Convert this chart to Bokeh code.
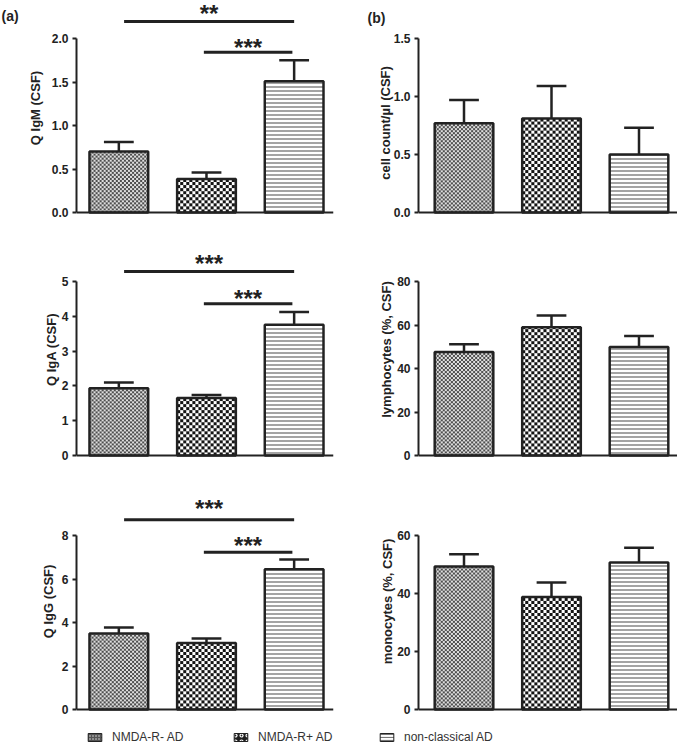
import numpy as np
from bokeh.plotting import figure
from bokeh.models import (Range1d, FixedTicker, NumeralTickFormatter, Span, Label,
                          Legend, LegendItem)
from bokeh.layouts import column, row
from bokeh.embed import file_html
from bokeh.resources import INLINE
from bokeh.core.properties import value

# ---------------- data ----------------
groups = ["NMDA-R- AD", "NMDA-R+ AD", "non-classical AD"]

igm_mean = [0.70, 0.385, 1.51]
igm_sem = [0.11, 0.075, 0.24]
iga_mean = [1.93, 1.65, 3.76]
iga_sem = [0.17, 0.09, 0.36]
igg_mean = [3.49, 3.06, 6.45]
igg_sem = [0.28, 0.20, 0.45]
cell_mean = [0.77, 0.81, 0.50]
cell_sem = [0.20, 0.28, 0.23]
lym_mean = [47.6, 59.0, 49.9]
lym_sem = [3.5, 5.4, 5.1]
mono_mean = [49.3, 38.8, 50.7]
mono_sem = [4.2, 5.0, 5.1]

igm_ticks = [0, 0.5, 1.0, 1.5, 2.0]
iga_ticks = [0, 1, 2, 3, 4, 5]
igg_ticks = [0, 2, 4, 6, 8]
cell_ticks = [0, 0.5, 1.0, 1.5]
lym_ticks = [0, 20, 40, 60, 80]
mono_ticks = [0, 20, 40, 60]

# significance brackets (group-axis extents, bracket height, star height, label)
sig_x0 = [0.06, 0.97]
sig_x1 = [2.00, 1.98]
igm_sig_y = [2.195, 1.843]
igm_star_y = [2.337, 1.943]
igm_stars = ["**", "***"]
iga_sig_y = [5.29, 4.36]
iga_star_y = [5.62, 4.63]
iga_stars = ["***", "***"]
igg_sig_y = [8.72, 7.23]
igg_star_y = [9.42, 7.74]
igg_stars = ["***", "***"]

# ---------------- style / layout ----------------
FONT = "Liberation Sans"
INK = "#222222"
AXIS_PX = 174.0
BAR_W = 0.67
XR_L = (-0.483, 2.449)
XR_R = (-0.52, 2.44)
TAG_A_W = 20
COL_L = dict(w=345, bl=76, br=12, xr=XR_L)
COL_L1 = dict(w=345 - TAG_A_W, bl=76 - TAG_A_W, br=12, xr=XR_L)
COL_R = dict(w=332, bl=73, br=0, xr=XR_R)
ROW1 = dict(h=238, bt=0, bb=23, z=3)
ROW1R = dict(h=238, bt=30, bb=23, z=3)
ROW2 = dict(h=249, bt=2, bb=29, z=3)
ROW3 = dict(h=231, bt=3, bb=6, z=3)
LEG_H = 27

# textures: (cell px, dark colour, light colour) for checkerboards; None = hatch
CHECKS = [(2, (78, 78, 78), (222, 222, 222)), (3, (20, 20, 20), (255, 255, 255)), None]
LINES = dict(hatch_pattern="horizontal_line", hatch_scale=4, hatch_weight=1.6,
             hatch_color="#8c8c8c")


def checker_img(h, w, cell, dark, light):
    yy, xx = np.mgrid[0:h, 0:w]
    mask = ((yy // cell + xx // cell) % 2) == 0
    img = np.empty((h, w), dtype=np.uint32)
    v = img.view(dtype=np.uint8).reshape((h, w, 4))
    for k in range(3):
        v[:, :, k] = np.where(mask, dark[k], light[k])
    v[:, :, 3] = 255
    return img


def blank_fig(w, h, **kw):
    f = figure(width=w, height=h, x_range=Range1d(0, 1), y_range=Range1d(0, 1),
               output_backend="svg", toolbar_location=None, x_axis_location=None,
               y_axis_location=None, outline_line_color=None,
               background_fill_color="white", border_fill_color="white", **kw)
    f.grid.visible = False
    return f


def panel(col, rw, mean, sem, ticks, ylabel, fmt, standoff,
          sig_y=None, star_y=None, stars=None, title=None):
    ppu = AXIS_PX / ticks[-1]
    fw = col["w"] - col["bl"] - col["br"]
    fh = rw["h"] - rw["bt"] - rw["bb"]
    ppx = fw / (col["xr"][1] - col["xr"][0])
    y0 = -rw["z"] / ppu
    y1 = y0 + fh / ppu
    p = figure(width=col["w"], height=rw["h"], x_range=Range1d(*col["xr"]),
               y_range=Range1d(y0, y1), output_backend="svg", toolbar_location=None,
               x_axis_location=None, min_border_left=col["bl"], min_border_right=col["br"],
               min_border_top=rw["bt"], min_border_bottom=rw["bb"],
               background_fill_color="white", border_fill_color="white",
               outline_line_color=None)
    if title is not None:
        # panel tag placed as a left-aligned title shifted left of the frame
        p.title.text = title[0]
        p.title.align = "left"
        p.title.offset = title[1]
        p.title.standoff = title[2]
        p.title.text_font = FONT
        p.title.text_font_style = "bold"
        p.title.text_font_size = "14px"
        p.title.text_color = INK
    p.grid.visible = False
    ax = p.yaxis[0]
    ax.ticker = FixedTicker(ticks=ticks)
    ax.bounds = (0, ticks[-1])
    ax.formatter = NumeralTickFormatter(format=fmt)
    ax.axis_label = ylabel
    ax.axis_label_text_font = FONT
    ax.axis_label_text_font_style = "bold"
    ax.axis_label_text_font_size = "13px"
    ax.axis_label_text_color = INK
    ax.axis_label_standoff = standoff
    ax.major_label_text_font = FONT
    ax.major_label_text_font_style = "bold"
    ax.major_label_text_font_size = "12px"
    ax.major_label_text_color = INK
    ax.major_label_standoff = 4
    ax.axis_line_width = 2
    ax.axis_line_color = INK
    ax.major_tick_line_width = 2
    ax.major_tick_line_color = INK
    ax.major_tick_out = 4
    ax.major_tick_in = 0
    ax.minor_tick_line_color = None

    xs = np.arange(len(mean))
    mean = np.array(mean, dtype=float)
    upper = mean + np.array(sem)
    # error bars (upper only)
    p.segment(x0=xs, y0=mean, x1=xs, y1=upper, line_color=INK, line_width=2.5)
    p.segment(x0=xs - 0.17, y0=upper, x1=xs + 0.17, y1=upper, line_color=INK, line_width=2.5)
    for i in range(len(mean)):
        if CHECKS[i] is not None:
            cell, dark, light = CHECKS[i]
            img = checker_img(max(1, int(round(mean[i] * ppu))), int(round(BAR_W * ppx)),
                              cell, dark, light)
            p.image_rgba(image=[img], x=xs[i] - BAR_W / 2, y=0, dw=BAR_W, dh=mean[i])
            p.vbar(x=[xs[i]], top=[mean[i]], bottom=0, width=BAR_W, fill_color=None,
                   line_color=INK, line_width=2.5)
        else:
            p.vbar(x=[xs[i]], top=[mean[i]], bottom=0, width=BAR_W, fill_color="white",
                   line_color=INK, line_width=2.5, **LINES)
    p.add_layout(Span(location=0, dimension="width", line_color=INK, line_width=2))

    if sig_y is not None:
        p.segment(x0=sig_x0, y0=sig_y, x1=sig_x1, y1=sig_y, line_color=INK, line_width=3)
        mids = [(a + b) / 2 for a, b in zip(sig_x0, sig_x1)]
        p.text(x=mids, y=star_y, text=stars, text_align="center", text_baseline="alphabetic",
               text_font=value(FONT), text_font_style="bold", text_font_size="24px",
               text_color=INK, y_offset=4)
    return p


# "(a)" tag: a narrow blank figure whose frame matches the IgM panel's frame
tag_a = blank_fig(TAG_A_W, ROW1["h"], min_border_left=0, min_border_right=0,
                  min_border_top=ROW1["bt"], min_border_bottom=ROW1["bb"])
tag_a.add_layout(Label(x=1, y=ROW1["h"] - ROW1["bt"] - ROW1["bb"] - 15,
                       x_units="screen", y_units="screen", text="(a)",
                       text_align="left", text_baseline="middle", text_font=FONT,
                       text_font_style="bold", text_font_size="14px", text_color=INK))

f1 = panel(COL_L1, ROW1, igm_mean, igm_sem, igm_ticks, "Q IgM (CSF)", "0.0", 6,
           igm_sig_y, igm_star_y, igm_stars)
f2 = panel(COL_R, ROW1R, cell_mean, cell_sem, cell_ticks, "cell count/µl (CSF)", "0.0", -2,
           title=("(b)", -51, 9))
f3 = panel(COL_L, ROW2, iga_mean, iga_sem, iga_ticks, "Q IgA (CSF)", "0", 0,
           iga_sig_y, iga_star_y, iga_stars)
f4 = panel(COL_R, ROW2, lym_mean, lym_sem, lym_ticks, "lymphocytes (%, CSF)", "0", 0)
f5 = panel(COL_L, ROW3, igg_mean, igg_sem, igg_ticks, "Q IgG (CSF)", "0", 3,
           igg_sig_y, igg_star_y, igg_stars)
f6 = panel(COL_R, ROW3, mono_mean, mono_sem, mono_ticks, "monocytes (%, CSF)", "0", -1)

# legend strip
LEG_STYLE = [dict(fill_color="#8f8f8f", hatch_pattern="cross", hatch_color="#555555",
                  hatch_scale=3, hatch_weight=1),
             dict(fill_color="#1e1e1e", hatch_pattern="ring", hatch_color="white",
                  hatch_scale=6, hatch_weight=1.2),
             dict(fill_color="white", hatch_pattern="horizontal_line", hatch_color="#777777",
                  hatch_scale=3, hatch_weight=1.2)]
leg = blank_fig(677, LEG_H, min_border=0)
items = []
for i, g in enumerate(groups):
    # off-range sample bar: only its legend swatch is visible
    r = leg.vbar(x=[3 + i], top=[1], width=0.5, line_color=INK, line_width=1, **LEG_STYLE[i])
    items.append(LegendItem(label=g, renderers=[r]))
legend = Legend(items=items, orientation="horizontal", location=(86, 1),
                glyph_width=17, glyph_height=10, label_standoff=9, label_width=120,
                label_height=14, spacing=0, padding=0, margin=0, border_line_color=None,
                background_fill_alpha=0, label_text_font=FONT, label_text_font_size="12px",
                label_text_color="#333333")
leg.add_layout(legend)

layout = column(row(tag_a, f1, column(f2)), row(f3, f4), row(f5, f6), leg)
open("out.html", "w").write(file_html(layout, INLINE))
